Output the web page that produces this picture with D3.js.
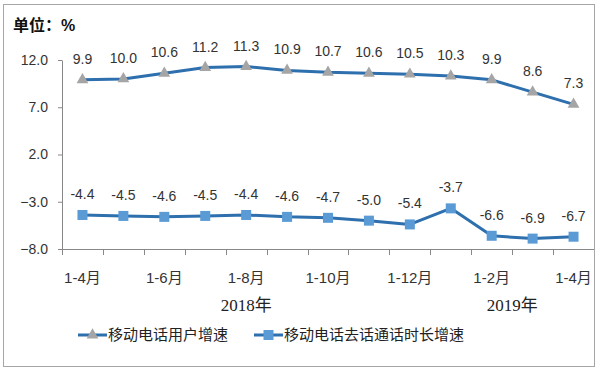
<!DOCTYPE html>
<head>
	<meta charset="utf-8">
	<script type="text/javascript" src="https://cdn.jsdelivr.net/npm/d3@7/dist/d3.min.js"></script>
	<style>
		body { margin: 0; background: #fff; }
	</style>
</head>
<body>
	<script type="text/javascript">

	// 13 periods: 2018 1-4月 .. 1-12月, then 2019 1月 .. 1-4月
	var months = ["1-4月", "1-5月", "1-6月", "1-7月", "1-8月", "1-9月", "1-10月", "1-11月", "1-12月",
		"1月", "1-2月", "1-3月", "1-4月"];
	var years = [["2018年", 0, 8], ["2019年", 9, 12]];
	var userGrowth = [9.9, 10.0, 10.6, 11.2, 11.3, 10.9, 10.7, 10.6, 10.5, 10.3, 9.9, 8.6, 7.3];
	var callGrowth = [-4.4, -4.5, -4.6, -4.5, -4.4, -4.6, -4.7, -5.0, -5.4, -3.7, -6.6, -6.9, -6.7];
	var yTicks = [12, 7, 2, -3, -8];
	var seriesNames = ["移动电话用户增速", "移动电话去话通话时长增速"];

	var w = 598;
	var h = 372;
	var font = "'Liberation Sans', 'Noto Sans CJK SC', sans-serif";
	var lineColor = "#2e6fad";

	var svg = d3.select("body")
	.append("svg")
	.attr("width", w)
	.attr("height", h);

	// frame
	svg.append("rect")
	.attr("x", 3.5).attr("y", 4.5)
	.attr("width", 591).attr("height", 362)
	.attr("fill", "#fff")
	.attr("stroke", "#a6a6a6");

	var idx = d3.range(months.length);

	var xscale = d3.scaleBand()
	.domain(idx)
	.range([62, 594])
	.padding(0);

	var yscale = d3.scaleLinear()
	.domain([-8, 12])
	.range([249, 60]);

	function cx(i){ return xscale(i) + xscale.bandwidth() / 2; }

	svg.append("text")
	.attr("x", 13).attr("y", 31)
	.attr("font-family", font)
	.attr("font-size", "16px")
	.attr("font-weight", "bold")
	.attr("fill", "#111")
	.text("单位：%");

	// y axis
	var yAxis = svg.append("g")
	.attr("transform", "translate(62,0)")
	.call(d3.axisLeft(yscale).tickValues(yTicks).tickFormat(d3.format(".1f")).tickSize(4).tickSizeOuter(0));
	yAxis.select(".domain").attr("stroke", "#888");
	yAxis.selectAll(".tick line").attr("stroke", "#888");
	yAxis.selectAll(".tick text")
	.attr("font-family", font)
	.attr("font-size", "14px")
	.attr("fill", "#333")
	.attr("x", -14);

	// x axis: line, ticks at band boundaries
	var x0 = xscale.range()[0], x1 = xscale.range()[1];
	svg.append("line")
	.attr("x1", x0).attr("x2", x1)
	.attr("y1", 249.5).attr("y2", 249.5)
	.attr("stroke", "#888");

	svg.selectAll("line.xtick")
	.data(idx)
	.enter()
	.append("line")
	.attr("class", "xtick")
	.attr("x1", function(i){ return Math.round(xscale(i)) + 0.5; })
	.attr("x2", function(i){ return Math.round(xscale(i)) + 0.5; })
	.attr("y1", 249).attr("y2", 255)
	.attr("stroke", "#888");

	svg.selectAll("text.xlab")
	.data(idx.filter(function(i){ return i % 2 == 0; }))
	.enter()
	.append("text")
	.attr("class", "xlab")
	.attr("x", function(i){ return cx(i); })
	.attr("y", 283)
	.attr("text-anchor", "middle")
	.attr("font-family", font)
	.attr("font-size", "15px")
	.attr("fill", "#333")
	.text(function(i){ return months[i]; });

	svg.selectAll("text.year")
	.data(years)
	.enter()
	.append("text")
	.attr("class", "year")
	.attr("x", function(d){ return (xscale(d[1]) + xscale(d[2]) + xscale.bandwidth()) / 2; })
	.attr("y", 311)
	.attr("text-anchor", "middle")
	.attr("font-family", "'Liberation Serif', 'Noto Sans CJK SC', serif")
	.attr("font-size", "17px")
	.attr("fill", "#222")
	.text(function(d){ return d[0]; });

	// lines
	var line = d3.line()
	.x(function(d, i){ return cx(i); })
	.y(function(d){ return yscale(d); });

	[userGrowth, callGrowth].forEach(function(s){
		svg.append("path")
		.datum(s)
		.attr("d", line)
		.attr("fill", "none")
		.attr("stroke", lineColor)
		.attr("stroke-width", 3)
		.attr("stroke-linejoin", "round");
	});

	var tri = d3.symbol().type(d3.symbolTriangle).size(60);

	svg.selectAll("path.tri")
	.data(userGrowth)
	.enter()
	.append("path")
	.attr("class", "tri")
	.attr("d", tri)
	.attr("transform", function(d, i){ return "translate(" + cx(i) + "," + yscale(d) + ")"; })
	.attr("fill", "#a5a5a5");

	svg.selectAll("rect.sq")
	.data(callGrowth)
	.enter()
	.append("rect")
	.attr("class", "sq")
	.attr("x", function(d, i){ return cx(i) - 5; })
	.attr("y", function(d){ return yscale(d) - 5; })
	.attr("width", 10).attr("height", 10)
	.attr("fill", "#5b9bd5");

	// value labels
	[userGrowth, callGrowth].forEach(function(s, k){
		svg.selectAll("text.lab" + k)
		.data(s)
		.enter()
		.append("text")
		.attr("class", "lab" + k)
		.attr("x", function(d, i){ return cx(i); })
		.attr("y", function(d){ return yscale(d) - 16; })
		.attr("text-anchor", "middle")
		.attr("font-family", font)
		.attr("font-size", "14px")
		.attr("fill", "#333")
		.text(function(d){ return d.toFixed(1); });
	});

	// legend
	var legend = svg.selectAll("g.legend")
	.data(seriesNames)
	.enter()
	.append("g")
	.attr("class", "legend")
	.attr("transform", function(d, i){ return "translate(" + (i == 0 ? 78 : 254) + ",335)"; });

	legend.append("line")
	.attr("x1", 0).attr("x2", 29)
	.attr("stroke", lineColor)
	.attr("stroke-width", 3);

	legend.filter(function(d, i){ return i == 0; })
	.append("path")
	.attr("d", tri)
	.attr("transform", "translate(14.5,0)")
	.attr("fill", "#a5a5a5");

	legend.filter(function(d, i){ return i == 1; })
	.append("rect")
	.attr("x", 9.5).attr("y", -5)
	.attr("width", 10).attr("height", 10)
	.attr("fill", "#5b9bd5");

	legend.append("text")
	.attr("x", 30)
	.attr("y", 5)
	.attr("font-family", font)
	.attr("font-size", "15px")
	.attr("fill", "#222")
	.text(function(d){ return d; });

	</script>
</body>
</html>
